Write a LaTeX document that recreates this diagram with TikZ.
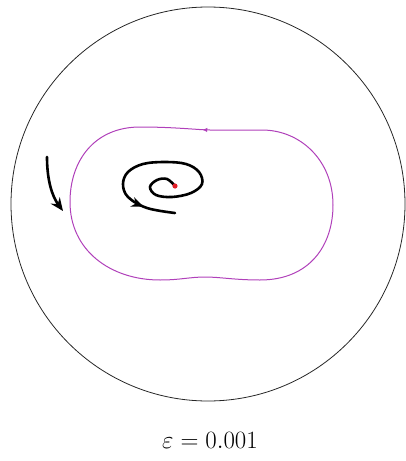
\documentclass[tikz,border=0pt]{standalone}
\usetikzlibrary{arrows.meta,decorations.markings}
\definecolor{orbit}{RGB}{176,64,186}
\definecolor{eqred}{RGB}{225,30,40}
\tikzset{
  bigcircle/.style={draw=black!85,line width=0.8pt},
  orbitline/.style={draw=orbit,line width=1pt},
  thickline/.style={draw=black,line width=2.6pt,line cap=round},
}
\begin{document}
\begin{tikzpicture}[x=1pt,y=-1pt]
\useasboundingbox (0,0) rectangle (406,461);
% outer circle
\draw[bigcircle] (208,204) circle (197);
% limit cycle
\draw[orbitline,postaction={decorate},decoration={markings,
  mark=at position 0.011 with {\arrow{Latex[length=5pt,width=4.5pt]}}}]
  (210,130) .. controls (200,130) and (175,127) .. (140,127)
  .. controls (95,127) and (70,160) .. (70,202)
  .. controls (70,250) and (110,280) .. (160,280)
  .. controls (180,280) and (190,277) .. (205,277)
  .. controls (220,277) and (235,280) .. (260,280)
  .. controls (310,280) and (333,245) .. (333,205)
  .. controls (333,160) and (300,130) .. (262,130)
  .. controls (245,130) and (225,130) .. (210,130) -- cycle;
% spiral
\draw[thickline,postaction={decorate},decoration={markings,
  mark=at position 0.875 with {\arrow{Stealth[length=12pt,width=10pt]}}}]
  plot[smooth,tension=0.6] coordinates {
  (175,186) (167,179) (157,180) (150,187) (156,195) (172,197)
  (191,193) (202,184) (199,172) (186,164) (165,162) (143,164) (128,172)
  (123,184) (128,197) (147,208) (175,213)};
% red equilibrium
\fill[eqred] (175,186) circle (2.6);
% left arrow
\draw[thickline,-{Stealth[length=13pt,width=11pt]}] (47,157) .. controls (47,180) and (52,196) .. (63,211);
% label
\node[anchor=base] (eps) at (210,448) {\fontsize{24}{28}\selectfont $\varepsilon = 0.001$};
\end{tikzpicture}
\end{document}
